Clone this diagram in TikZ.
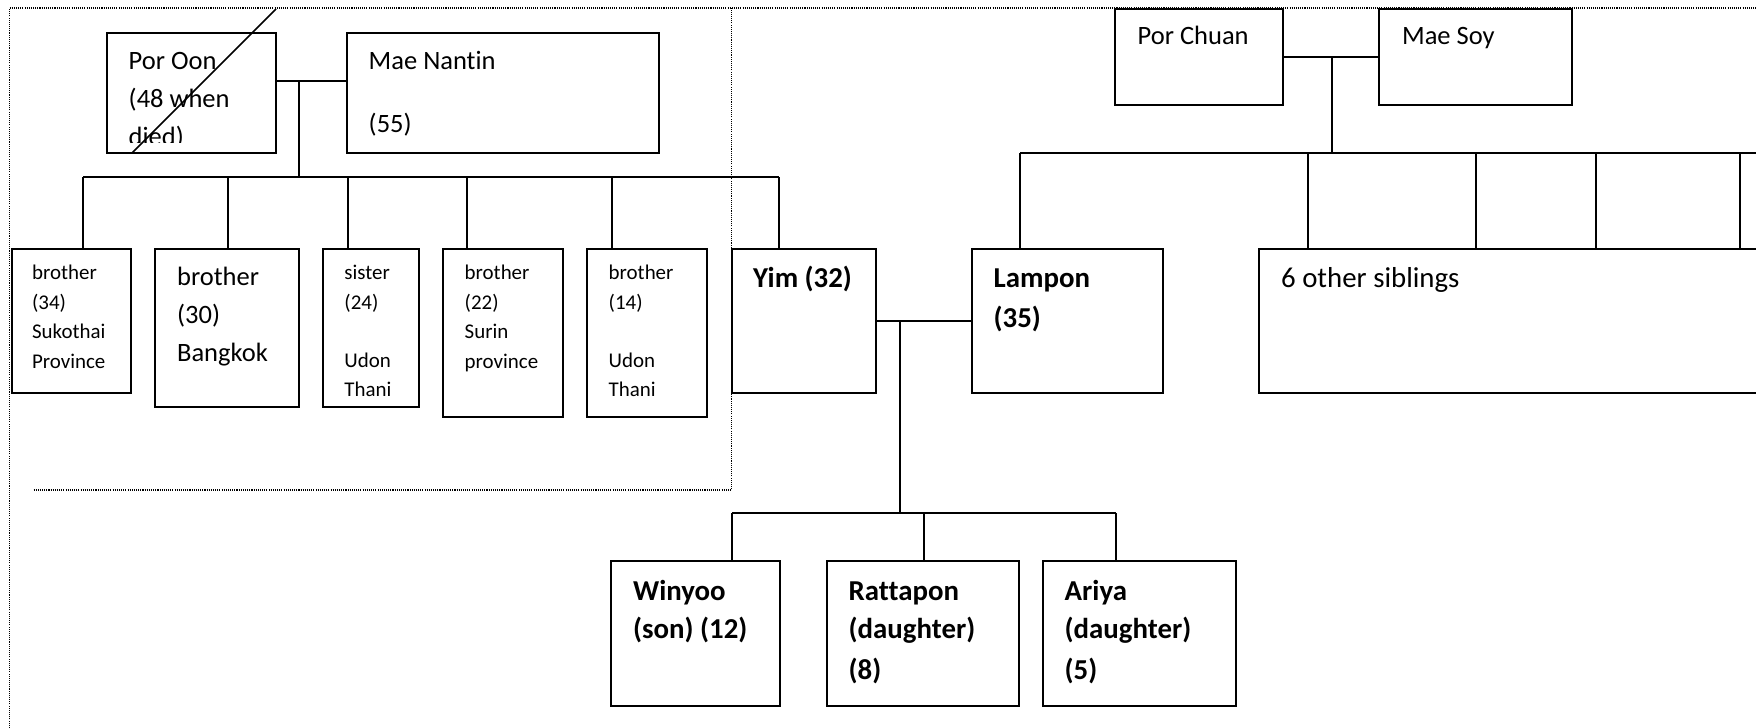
\documentclass[tikz,border=0pt]{standalone}
\usepackage{fontspec}
\setmainfont{Carlito}[Ligatures=NoCommon]
\usetikzlibrary{fit}
\begin{document}
\begin{tikzpicture}[x=0.468pt, y=-0.468pt,
  box/.style={draw, line width=0.936pt, inner sep=0pt},
  link/.style={line width=0.936pt},
  frame/.style={line width=0.6pt, dash pattern=on 0.5pt off 0.5pt},
  txt/.style={anchor=base west, inner sep=0pt, font=\fontsize{12.4}{14}\selectfont},
  widetxt/.style={anchor=base west, inner sep=0pt, font=\fontsize{13.5}{15}\selectfont},
  smalltxt/.style={anchor=base west, inner sep=0pt, font=\fontsize{9.8}{11}\selectfont},
  boldtxt/.style={anchor=base west, inner sep=0pt, font=\fontsize{13.5}{15}\selectfont\bfseries}]
\useasboundingbox (0,0) rectangle (1756,728);
\clip (0,0) rectangle (1756,728);

% dotted frames
\draw[frame] (9.5,728) -- (9.5,8) -- (1756,8);
\draw[frame] (33.5,490) -- (731.5,490) -- (731.5,8);

% ---------- Yim's family ----------
\node[box, fit={(107,33) (276,153)}] (poroon) {};
\node[box, fit={(347,33) (659,153)}] (maenantin) {};
\begin{scope}
  \clip (107,33) rectangle (276,142.7);
  \node[txt] (poroon-a) at (128.3,69.3) {Por Oon};
  \node[txt] (poroon-b) at (128.3,107.3) {(48 when};
  \node[txt] (poroon-c) at (128.3,145.3) {died)};
\end{scope}
\coordinate (strikeA) at (131.7,153.3);
\coordinate (strikeB) at (276,9);
\draw[line width=0.7pt] (strikeA) -- (strikeB);
\node[txt] (maenantin-a) at (368.3,69.3) {Mae Nantin};
\node[txt] (maenantin-b) at (368.3,132.3) {(55)};

\node[box, fit={(12,249) (131,393)}] (b34) {};
\node[box, fit={(155,249) (299,407)}] (b30) {};
\node[box, fit={(323,249) (419,407)}] (s24) {};
\node[box, fit={(443,249) (563,417)}] (b22) {};
\node[box, fit={(587,249) (707,417)}] (b14) {};
\node[box, fit={(732,249) (876,393)}] (yim) {};

\node[smalltxt] (b34-a) at (31.7,280) {brother};
\node[smalltxt] (b34-b) at (31.7,309.5) {(34)};
\node[smalltxt] (b34-c) at (31.7,339) {Sukothai};
\node[smalltxt] (b34-d) at (31.7,368.5) {Province};

\node[txt] (b30-a) at (176.7,286) {brother};
\node[txt] (b30-b) at (176.7,324) {(30)};
\node[txt] (b30-c) at (176.7,361.5) {Bangkok};

\node[smalltxt] (s24-a) at (344,280) {sister};
\node[smalltxt] (s24-b) at (344,309.5) {(24)};
\node[smalltxt] (s24-c) at (344,368) {Udon};
\node[smalltxt] (s24-d) at (344,397) {Thani};

\node[smalltxt] (b22-a) at (464.3,280) {brother};
\node[smalltxt] (b22-b) at (464.3,309.5) {(22)};
\node[smalltxt] (b22-c) at (464.3,339) {Surin};
\node[smalltxt] (b22-d) at (464.3,368.5) {province};

\node[smalltxt] (b14-a) at (608.3,280) {brother};
\node[smalltxt] (b14-b) at (608.3,309.5) {(14)};
\node[smalltxt] (b14-c) at (608.3,368) {Udon};
\node[smalltxt] (b14-d) at (608.3,397) {Thani};

\node[boldtxt] (yim-a) at (752.7,287.3) {Yim (32)};

\coordinate (j1) at (299,81);
\coordinate (j1b) at (299,177);
\draw[link] (poroon.east |- j1) -- (maenantin.west |- j1);
\draw[link] (j1) -- (j1b);
\draw[link] (83,177) -- (779,177);
\draw[link] (b34.north -| 83,0) -- (83,177);
\draw[link] (b30.north -| 228,0) -- (228,177);
\draw[link] (s24.north -| 348,0) -- (348,177);
\draw[link] (b22.north -| 467,0) -- (467,177);
\draw[link] (b14.north -| 612,0) -- (612,177);
\draw[link] (yim.north -| 779,0) -- (779,177);

% ---------- Lampon's family ----------
\node[box, fit={(1115,9) (1283,105)}] (porchuan) {};
\node[box, fit={(1379,9) (1572,105)}] (maesoy) {};
\node[txt] (porchuan-a) at (1137.3,45) {Por Chuan};
\node[txt] (maesoy-a) at (1401.7,45) {Mae Soy};

\node[box, fit={(972,249) (1163,393)}] (lampon) {};
\node[box, fit={(1259,249) (1790,393)}] (others) {};
\node[boldtxt] (lampon-a) at (993.3,287.7) {Lampon};
\node[boldtxt] (lampon-b) at (993.3,327.3) {(35)};
\node[widetxt] (others-a) at (1280.7,287.7) {6 other siblings};

\coordinate (j2) at (1332,57);
\coordinate (j2b) at (1332,153);
\draw[link] (porchuan.east |- j2) -- (maesoy.west |- j2);
\draw[link] (j2) -- (j2b);
\draw[link] (1020,153) -- (1756,153);
\draw[link] (lampon.north -| 1020,0) -- (1020,153);
\foreach \xx in {1308,1476,1596,1740}
  \draw[link] (others.north -| \xx,0) -- (\xx,153);

% ---------- Yim and Lampon's children ----------
\node[box, fit={(611,561) (780,706)}] (winyoo) {};
\node[box, fit={(827,561) (1019,706)}] (rattapon) {};
\node[box, fit={(1043,561) (1236,706)}] (ariya) {};

\node[boldtxt] (winyoo-a) at (632.7,600) {Winyoo};
\node[boldtxt] (winyoo-b) at (632.7,638.3) {(son) (12)};
\node[boldtxt] (rattapon-a) at (848.3,600) {Rattapon};
\node[boldtxt] (rattapon-b) at (848.3,638.3) {(daughter)};
\node[boldtxt] (rattapon-c) at (848.3,679.3) {(8)};
\node[boldtxt] (ariya-a) at (1064.3,600) {Ariya};
\node[boldtxt] (ariya-b) at (1064.3,638.3) {(daughter)};
\node[boldtxt] (ariya-c) at (1064.3,679.3) {(5)};

\coordinate (j3) at (900,321);
\coordinate (j3b) at (900,513);
\draw[link] (yim.east |- j3) -- (lampon.west |- j3);
\draw[link] (j3) -- (j3b);
\draw[link] (732,513) -- (1116,513);
\draw[link] (winyoo.north -| 732,0) -- (732,513);
\draw[link] (rattapon.north -| 924,0) -- (924,513);
\draw[link] (ariya.north -| 1116,0) -- (1116,513);
\end{tikzpicture}
\end{document}
